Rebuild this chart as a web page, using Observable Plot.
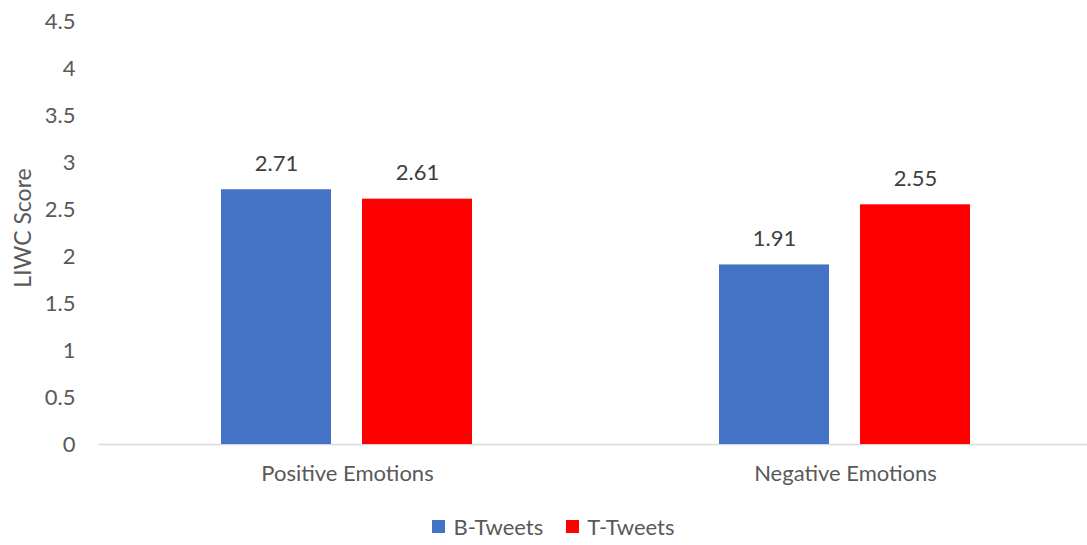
<!DOCTYPE html>
<html>
<head>
<meta charset="utf-8">
<script src="https://cdn.jsdelivr.net/npm/d3@7"></script>
<script src="https://cdn.jsdelivr.net/npm/@observablehq/plot@0.6"></script>
<style>
  html, body { margin: 0; padding: 0; background: #fff; }
  #chart { width: 1087px; }
  .legend { display: flex; justify-content: center; align-items: center; gap: 23px;
            height: 42px; padding-left: 20px; box-sizing: border-box;
            font-family: Lato, "Open Sans", sans-serif; font-size: 22px; color: #595959; }
  .legend span.item { display: flex; align-items: center; gap: 8px; }
  .legend i { display: inline-block; width: 13px; height: 13px; }
</style>
</head>
<body>
<div id="chart"></div>
<script>
// LIWC emotion scores for the two tweet groups
const categories = ["Positive Emotions", "Negative Emotions"];
const series = ["B-Tweets", "T-Tweets"];
const bTweets = [2.71, 1.91];
const tTweets = [2.61, 2.55];
const colors = ["#4472C4", "#FF0000"];
const yTicks = [0, 0.5, 1, 1.5, 2, 2.5, 3, 3.5, 4, 4.5];

const rows = categories.flatMap((c, i) => [
  {category: c, series: series[0], value: bTweets[i]},
  {category: c, series: series[1], value: tTweets[i]}
]);

const font = "Lato, 'Open Sans', sans-serif";

const chart = Plot.plot({
  width: 1087,
  height: 505,
  marginLeft: 98,
  marginRight: 2,
  marginTop: 21,
  marginBottom: 61,
  style: {fontFamily: font, fontSize: "22px", color: "#595959", background: "#fff"},
  fx: {domain: categories, range: [98, 1094], padding: 0, label: null, tickSize: 0, tickPadding: 21},
  x: {domain: series, paddingInner: 0.218, paddingOuter: 0.866, axis: null},
  y: {domain: [0, 4.5], ticks: yTicks, tickSize: 0, tickPadding: 23,
      tickFormat: d => String(d), label: null},
  color: {domain: series, range: colors},
  marks: [
    Plot.axisY({ticks: yTicks, tickSize: 0, tickPadding: 23, tickFormat: d => String(d),
      label: null, fontSize: 22}),
    Plot.ruleY([0], {stroke: "#d9d9d9", strokeWidth: 1.5}),
    Plot.barY(rows, {fx: "category", x: "series", y: "value", fill: "series"}),
    Plot.text(rows, {fx: "category", x: "series", y: "value", text: d => d.value.toFixed(2),
      dy: -26, fill: "#404040", fontSize: 22})
  ]
});

// Rotated y-axis title
const svg = d3.select(chart);
svg.append("text")
  .attr("transform", "translate(22,228) rotate(-90)")
  .attr("text-anchor", "middle")
  .attr("dominant-baseline", "central")
  .attr("fill", "#595959")
  .style("font-family", font)
  .style("font-size", "23px")
  .text("LIWC Score");

document.getElementById("chart").appendChild(chart);

const legend = document.createElement("div");
legend.className = "legend";
series.forEach((s, i) => {
  const item = document.createElement("span");
  item.className = "item";
  item.innerHTML = `<i style="background:${colors[i]}"></i>${s}`;
  legend.appendChild(item);
});
document.getElementById("chart").appendChild(legend);
</script>
</body>
</html>
